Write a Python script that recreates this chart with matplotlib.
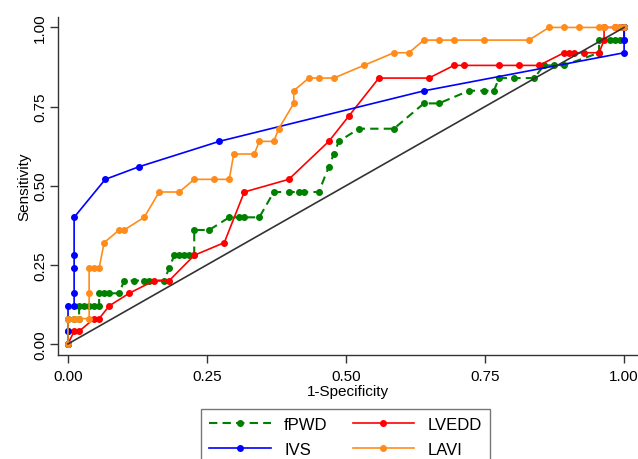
import matplotlib.pyplot as plt

plt.rcParams["font.family"] = ["Liberation Sans", "DejaVu Sans"]

# ROC points (1-specificity, sensitivity)
fpwd_x = [0, 0, 0, 0.011, 0.02, 0.02, 0.029, 0.038, 0.047, 0.056, 0.056, 0.065, 0.074, 0.092,
          0.101, 0.119, 0.137, 0.146, 0.173, 0.182, 0.191, 0.2, 0.209, 0.218, 0.227, 0.227,
          0.254, 0.29, 0.308, 0.317, 0.344, 0.37, 0.397, 0.415, 0.424, 0.451, 0.469, 0.478,
          0.487, 0.523, 0.586, 0.64, 0.667, 0.721, 0.748, 0.766, 0.775, 0.802, 0.838, 0.856,
          0.874, 0.892, 0.955, 0.955, 0.975, 0.984, 0.993, 1.0, 1.0]
fpwd_y = [0, 0.04, 0.08, 0.08, 0.08, 0.12, 0.12, 0.12, 0.12, 0.12, 0.16, 0.16, 0.16, 0.16,
          0.20, 0.20, 0.20, 0.20, 0.20, 0.24, 0.28, 0.28, 0.28, 0.28, 0.28, 0.36,
          0.36, 0.40, 0.40, 0.40, 0.40, 0.48, 0.48, 0.48, 0.48, 0.48, 0.56, 0.60,
          0.64, 0.68, 0.68, 0.76, 0.76, 0.80, 0.80, 0.80, 0.84, 0.84, 0.84, 0.88,
          0.88, 0.88, 0.92, 0.96, 0.96, 0.96, 0.96, 0.96, 1.0]

lvedd_x = [0, 0.011, 0.02, 0.047, 0.056, 0.074, 0.11, 0.155, 0.182, 0.227, 0.281, 0.317, 0.397,
           0.469, 0.505, 0.559, 0.649, 0.694, 0.712, 0.775, 0.811, 0.847, 0.892, 0.901, 0.91,
           0.928, 0.955, 0.964, 0.964, 0.984, 0.993, 1.0]
lvedd_y = [0, 0.04, 0.04, 0.08, 0.08, 0.12, 0.16, 0.20, 0.20, 0.28, 0.32, 0.48, 0.52,
           0.64, 0.72, 0.84, 0.84, 0.88, 0.88, 0.88, 0.88, 0.88, 0.92, 0.92, 0.92,
           0.92, 0.92, 0.96, 1.0, 1.0, 1.0, 1.0]

ivs_x = [0, 0, 0, 0.011, 0.011, 0.011, 0.011, 0.011, 0.067, 0.128, 0.272, 0.641, 1.0, 1.0, 1.0]
ivs_y = [0, 0.04, 0.12, 0.12, 0.16, 0.24, 0.28, 0.40, 0.52, 0.56, 0.64, 0.80, 0.92, 0.96, 1.0]

lavi_x = [0, 0, 0.011, 0.02, 0.038, 0.038, 0.038, 0.047, 0.056, 0.065, 0.092, 0.101, 0.137,
          0.164, 0.2, 0.227, 0.263, 0.29, 0.298, 0.335, 0.344, 0.37, 0.379, 0.406, 0.406,
          0.433, 0.451, 0.478, 0.532, 0.586, 0.613, 0.64, 0.667, 0.694, 0.748, 0.829, 0.865,
          0.892, 0.919, 0.955, 0.964, 0.984, 0.993, 1.0]
lavi_y = [0, 0.08, 0.08, 0.08, 0.08, 0.16, 0.24, 0.24, 0.24, 0.32, 0.36, 0.36, 0.40,
          0.48, 0.48, 0.52, 0.52, 0.52, 0.60, 0.60, 0.64, 0.64, 0.68, 0.76, 0.80,
          0.84, 0.84, 0.84, 0.88, 0.92, 0.92, 0.96, 0.96, 0.96, 0.96, 0.96, 1.0,
          1.0, 1.0, 1.0, 1.0, 1.0, 1.0, 1.0]

ticks = [0, 0.25, 0.5, 0.75, 1.0]
tick_labels = ["0.00", "0.25", "0.50", "0.75", "1.00"]

fig = plt.figure(figsize=(6.38, 4.6), dpi=100)
ax = fig.add_axes([0.0909, 0.2261, 0.9091, 0.7348])

l1, = ax.plot(fpwd_x, fpwd_y, color="#008000", lw=1.5, ls=(0, (4, 2.5)),
              marker="o", ms=4, label="fPWD")
l2, = ax.plot(lvedd_x, lvedd_y, color="#ff0000", lw=1.2, marker="o", ms=4, label="LVEDD")
l3, = ax.plot(ivs_x, ivs_y, color="#0000ff", lw=1.2, marker="o", ms=4, label="IVS")
l4, = ax.plot(lavi_x, lavi_y, color="#ff8c1a", lw=1.2, marker="o", ms=4, label="LAVI")
ax.plot([0, 1], [0, 1], color="#333333", lw=1.2)

ax.set_xlim(-0.018, 1.025)
ax.set_ylim(-0.035, 1.033)
ax.set_xticks(ticks)
ax.set_xticklabels(tick_labels)
ax.set_yticks(ticks)
ax.set_yticklabels(tick_labels, rotation=90, va="center")
ax.tick_params(labelsize=11, length=6, width=1, color="#333333", pad=4)
ax.tick_params(axis="y", pad=2)
ax.set_xlabel("1-Specificity", fontsize=11, labelpad=1)
ax.set_ylabel("Sensitivity", fontsize=11, labelpad=1)

for side in ["top", "right"]:
    ax.spines[side].set_visible(False)
for side in ["left", "bottom"]:
    ax.spines[side].set_color("#333333")
    ax.spines[side].set_linewidth(1)

leg = fig.legend([l1, l3, l2, l4], ["fPWD", "IVS", "LVEDD", "LAVI"], ncol=2,
                 loc="upper center", bbox_to_anchor=(0.5415, 0.1087), fontsize=12,
                 handlelength=3.7, columnspacing=1.5, labelspacing=0.6, numpoints=1,
                 fancybox=False, edgecolor="#555555", borderpad=0.5, borderaxespad=0)
leg.get_frame().set_linewidth(1)

fig.savefig("out.png", dpi=100)
